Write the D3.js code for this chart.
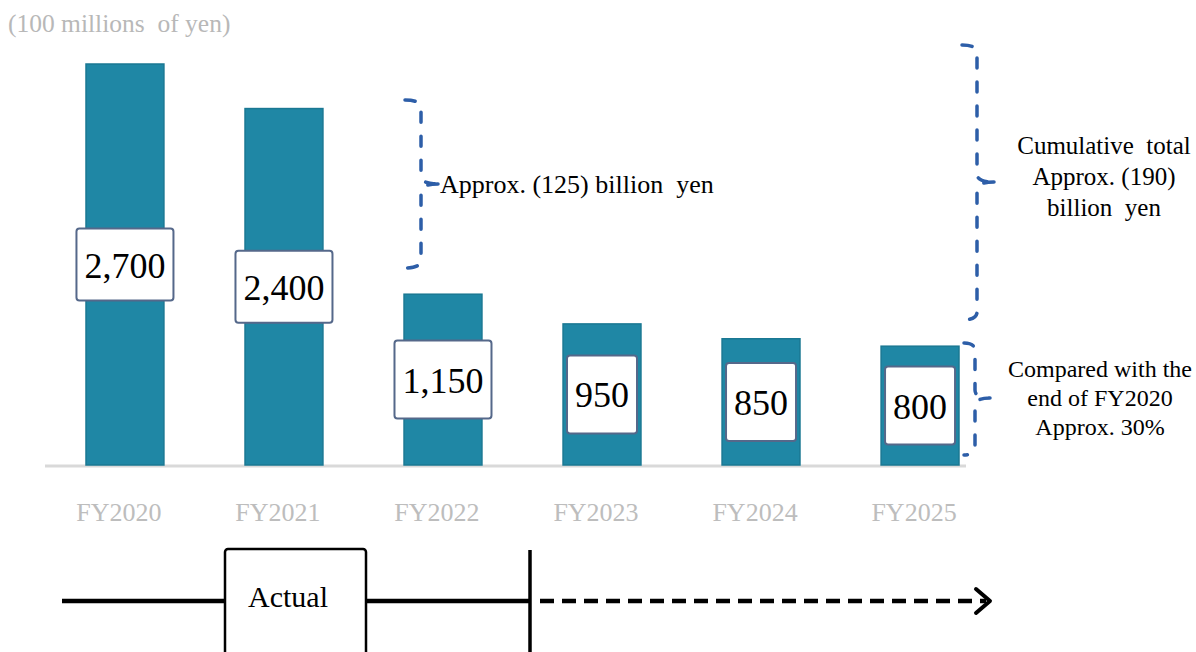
<!DOCTYPE html>
<html><head><meta charset="utf-8">
<script src="https://cdn.jsdelivr.net/npm/d3@7"></script>
<style>body{margin:0;background:#fff}svg{display:block}text{font-family:"Liberation Serif","Times New Roman",serif;white-space:pre}</style>
</head><body><svg id="c" width="1196" height="652"></svg>
<script>
const categories = ["FY2020","FY2021","FY2022","FY2023","FY2024","FY2025"];
const values = [2700, 2400, 1150, 950, 850, 800];
const valueLabels = ["2,700","2,400","1,150","950","850","800"];
const unitLabel = "(100 millions  of yen)";
const note1 = ["Approx. (125) billion  yen"];
const note2 = ["Cumulative  total", "Approx. (190)", "billion  yen"];
const note3 = ["Compared with the", "end of FY2020", "Approx. 30%"];
const timelineLabel = "Actual";

const svg = d3.select("#c");
const x = d3.scaleBand().domain(categories).range([86, 959]).paddingInner(0.51).paddingOuter(0);
const y = d3.scaleLinear().domain([0, 2700]).range([465, 64]);

svg.append("text").attr("x", 8).attr("y", 32).attr("font-size", 25.5).attr("fill", "#b8b8b8").text(unitLabel);

// baseline
svg.append("line").attr("x1", 45).attr("x2", 966).attr("y1", 466).attr("y2", 466)
  .attr("stroke", "#d9d9d9").attr("stroke-width", 3);

// bars
svg.selectAll("rect.bar").data(values).join("rect").attr("class","bar")
  .attr("x", (d,i)=>x(categories[i])).attr("width", x.bandwidth())
  .attr("y", d=>y(d)).attr("height", d=>y(0)-y(d))
  .attr("fill", "#1f87a5").attr("stroke", "#1a7893").attr("stroke-width", 1.5);

// value label boxes
const g = svg.selectAll("g.lab").data(values).join("g").attr("class","lab");
g.each(function(d,i){
  const cx = x(categories[i]) + x.bandwidth()/2;
  const cy = (y(d)+y(0))/2;
  const sel = d3.select(this);
  const t = sel.append("text").attr("x", cx).attr("y", cy+13).attr("text-anchor","middle")
    .attr("font-size", 36).attr("fill", "#000").text(valueLabels[i]);
  const w = t.node().getComputedTextLength() + 16;
  const h = i < 2 ? 72 : 78;
  sel.insert("rect", "text").attr("x", cx - w/2).attr("y", cy - h/2).attr("width", w).attr("height", h)
    .attr("rx", 3).attr("fill", "#fff").attr("stroke", "#55688a").attr("stroke-width", 2);
});

// category labels
svg.selectAll("text.cat").data(categories).join("text").attr("class","cat")
  .attr("x", d=>x(d)+x.bandwidth()/2).attr("dx", -6).attr("y", 521).attr("text-anchor","middle")
  .attr("font-size", 26).attr("fill", "#bdbdbd").text(d=>d);

// braces
function brace(x0, x1, x2, yt, ym, yb){
  const r = 8;
  return `M${x0},${yt} Q${x1},${yt} ${x1},${yt+r} L${x1},${ym-r} Q${x1},${ym} ${x2},${ym} `+
         `M${x2},${ym} Q${x1},${ym} ${x1},${ym+r} L${x1},${yb-r} Q${x1},${yb} ${x0},${yb}`;
}
const braceStyle = s => s.attr("fill","none").attr("stroke","#2d5ea8").attr("stroke-width",3.5)
  .attr("stroke-dasharray","10 14").attr("stroke-linecap","round");
svg.append("path").attr("d", brace(405, 421, 438, 100, 184, 268)).call(braceStyle);
svg.append("path").attr("d", brace(962, 977, 994, 45, 182, 320)).call(braceStyle);
svg.append("path").attr("d", brace(964, 975, 990, 343, 398, 455)).call(braceStyle);

svg.append("text").attr("x", 440).attr("y", 193).attr("font-size", 26).attr("fill","#000").text(note1[0]);
svg.selectAll("text.n2").data(note2).join("text").attr("class","n2")
  .attr("x", 1104).attr("y", (d,i)=>154+i*31).attr("text-anchor","middle").attr("font-size", 25)
  .attr("fill","#000").text(d=>d);
svg.selectAll("text.n3").data(note3).join("text").attr("class","n3")
  .attr("x", 1100).attr("y", (d,i)=>377+i*29).attr("text-anchor","middle").attr("font-size", 24)
  .attr("fill","#000").text(d=>d);

// timeline
const ty = 601;
svg.append("line").attr("x1", 62).attr("x2", 531).attr("y1", ty).attr("y2", ty).attr("stroke","#000").attr("stroke-width",4.5);
svg.append("rect").attr("x", 225).attr("y", 549).attr("width", 141).attr("height", 120).attr("rx", 3)
  .attr("fill","#fff").attr("stroke","#000").attr("stroke-width",2.5);
svg.append("text").attr("x", 288).attr("y", 607).attr("text-anchor","middle").attr("font-size", 30).attr("fill","#000").text(timelineLabel);
svg.append("line").attr("x1", 530).attr("x2", 530).attr("y1", 550).attr("y2", 660).attr("stroke","#000").attr("stroke-width",3.5);
svg.append("line").attr("x1", 540).attr("x2", 986).attr("y1", ty).attr("y2", ty).attr("stroke","#000").attr("stroke-width",4.5)
  .attr("stroke-dasharray","14 8");
svg.append("path").attr("d", `M976,${ty-12} L990,${ty} L976,${ty+12}`).attr("fill","none").attr("stroke","#000")
  .attr("stroke-width",4).attr("stroke-linecap","round").attr("stroke-linejoin","round");
</script></body></html>
